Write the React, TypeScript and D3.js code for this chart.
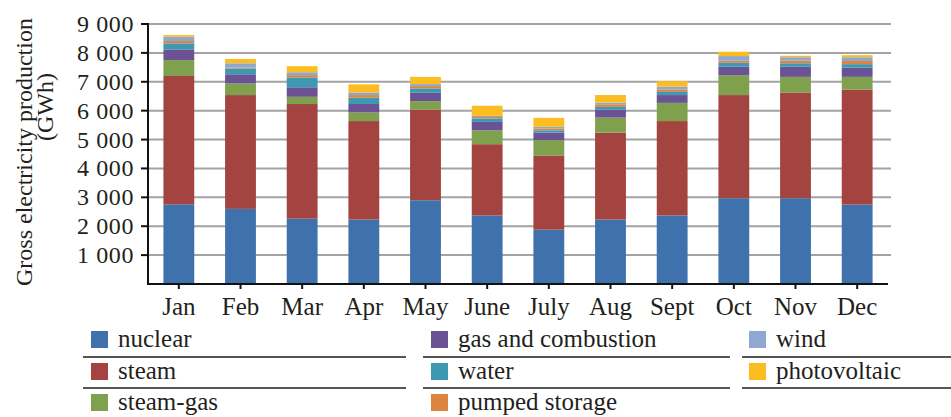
import React from 'react';
import * as d3 from 'd3';

// monthly gross production by source, GWh
const months = ['Jan', 'Feb', 'Mar', 'Apr', 'May', 'June', 'July', 'Aug', 'Sept', 'Oct', 'Nov', 'Dec'];
const nuclear = [2760, 2600, 2260, 2230, 2900, 2370, 1880, 2230, 2370, 2970, 2970, 2750];
const steam = [4440, 3940, 3970, 3410, 3140, 2470, 2570, 3010, 3270, 3570, 3660, 3980];
const steamGas = [550, 400, 250, 300, 290, 480, 530, 520, 630, 690, 540, 440];
const gasCombustion = [370, 320, 330, 290, 290, 290, 260, 270, 270, 290, 350, 320];
const water = [210, 200, 340, 220, 150, 120, 80, 100, 110, 140, 120, 120];
const pumpedStorage = [80, 30, 80, 90, 80, 50, 60, 90, 80, 70, 90, 110];
const wind = [150, 150, 100, 90, 70, 40, 60, 60, 100, 160, 120, 130];
const photovoltaic = [60, 150, 210, 280, 250, 350, 310, 260, 190, 150, 50, 70];
const yTicks = [1000, 2000, 3000, 4000, 5000, 6000, 7000, 8000, 9000];

const seriesNames = ['nuclear', 'steam', 'steam-gas', 'gas and combustion', 'water', 'pumped storage', 'wind', 'photovoltaic'];
const seriesValues = [nuclear, steam, steamGas, gasCombustion, water, pumpedStorage, wind, photovoltaic];
const colors = ['#3f72ad', '#a44441', '#7fa04d', '#6a5295', '#3d99b1', '#dc8541', '#8ea8d2', '#fbbd1f'];

const W = 951;
const H = 417;
const margin = { top: 24, right: 60, bottom: 133, left: 148 };
const font = '"Liberation Serif", "Times New Roman", serif';

// legend layout: columns of rows, with separator lines
const legendCols = [
  { x: 91, lineX: [83, 406], items: [0, 1, 2] },
  { x: 431, lineX: [423, 730], items: [3, 4, 5] },
  { x: 749, lineX: [742, 951], items: [6, 7] },
];
const rowBase = [347, 379, 410];
const sepY = [357, 388];

export default function App() {
  const innerH = H - margin.top - margin.bottom;
  const x = d3.scaleBand()
    .domain(months)
    .range([margin.left, margin.left + 740])
    .paddingInner(0.5)
    .paddingOuter(0.25);
  const y = d3.scaleLinear().domain([0, 9000]).range([margin.top + innerH, margin.top]);

  const table = months.map((m, i) => {
    const row: any = { month: m };
    seriesNames.forEach((s, j) => { row[s] = seriesValues[j][i]; });
    return row;
  });
  const stacked = d3.stack().keys(seriesNames)(table);

  const x0 = margin.left;
  const x1 = margin.left + 743;
  const y0 = y(0);

  return (
    <svg width={W} height={H} style={{ position: 'absolute', left: 0, top: 0 }} fontFamily={font}>
      <rect width={W} height={H} fill="#fff" />

      {/* gridlines */}
      {yTicks.map(t => (
        <line key={t} x1={x0} x2={x1} y1={y(t)} y2={y(t)} stroke="#a3a3a3" strokeWidth={2} />
      ))}

      {/* bars */}
      {stacked.map((layer, j) => (
        <g key={layer.key} fill={colors[j]}>
          {layer.map((d, i) => (
            <rect
              key={months[i]}
              x={x(months[i])}
              y={y(d[1])}
              width={x.bandwidth()}
              height={y(d[0]) - y(d[1])}
            />
          ))}
        </g>
      ))}

      {/* y axis */}
      <line x1={x0} x2={x0} y1={y(9000) - 1} y2={y0 + 1} stroke="#111" strokeWidth={2} />
      {yTicks.map(t => (
        <g key={t}>
          <line x1={x0 - 7} x2={x0} y1={y(t)} y2={y(t)} stroke="#111" strokeWidth={2} />
          <text x={134} y={y(t) + 8} textAnchor="end" fontSize={24} letterSpacing={0.6} fill="#231f20">
            {d3.format(',')(t).replace(',', ' ')}
          </text>
        </g>
      ))}

      {/* x axis */}
      <line x1={x0 - 1} x2={x1 - 3} y1={y0} y2={y0} stroke="#111" strokeWidth={2} />
      {months.map(m => {
        const cx = (x(m) as number) + x.bandwidth() / 2;
        return (
          <g key={m}>
            <line x1={cx} x2={cx} y1={y0} y2={y0 + 5} stroke="#111" strokeWidth={2} />
            <text x={cx} y={315} textAnchor="middle" fontSize={25} fill="#231f20">{m}</text>
          </g>
        );
      })}

      {/* axis title */}
      <text transform="translate(32,152) rotate(-90)" textAnchor="middle" fontSize={24} fill="#231f20">
        Gross electricity production
      </text>
      <text transform="translate(53,107) rotate(-90)" textAnchor="middle" fontSize={24} fill="#231f20">
        (GWh)
      </text>

      {/* legend */}
      {legendCols.map((col, c) => (
        <g key={c}>
          {sepY.map(sy => (
            <line key={sy} x1={col.lineX[0]} x2={col.lineX[1]} y1={sy} y2={sy} stroke="#555" strokeWidth={2} />
          ))}
          {col.items.map((s, r) => (
            <g key={s}>
              <rect x={col.x} y={rowBase[r] - 16} width={17} height={17} fill={colors[s]} />
              <text x={col.x + 27} y={rowBase[r]} fontSize={25} fill="#231f20">{seriesNames[s]}</text>
            </g>
          ))}
        </g>
      ))}
    </svg>
  );
}
